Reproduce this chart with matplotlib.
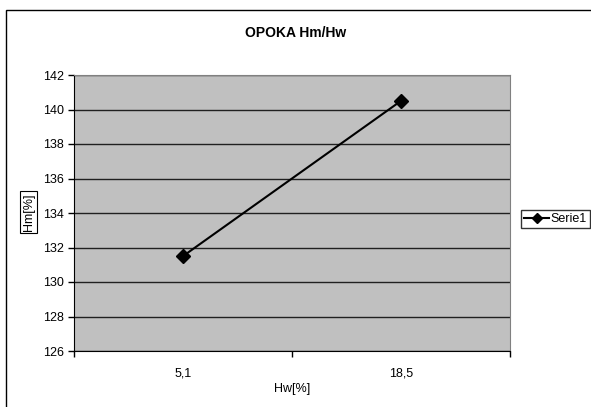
import matplotlib
matplotlib.use("Agg")
import matplotlib.pyplot as plt
from matplotlib.patches import Rectangle

plt.rcParams['font.family'] = ['Liberation Sans', 'DejaVu Sans']

categories = ["5,1", "18,5"]
hm_values = [131.5, 140.5]
y_ticks = [126, 128, 130, 132, 134, 136, 138, 140, 142]
series_name = "Serie1"

W, H = 591, 407
fig = plt.figure(figsize=(W / 100, H / 100), dpi=100)

# outer chart frame
fig.patches.append(Rectangle((6 / W, -0.05), 1.2, 1 - 10 / H + 0.05,
                             transform=fig.transFigure, fill=False,
                             edgecolor='black', linewidth=1.0))

ax = fig.add_axes([74 / W, 1 - 351 / H, (510 - 74) / W, (351 - 75) / H])
ax.set_facecolor('#c0c0c0')

x = list(range(len(categories)))
ax.plot(x, hm_values, color='black', linewidth=1.5, marker='D',
        markersize=7, label=series_name, zorder=3)

ax.set_xlim(-0.5, len(categories) - 0.5)
ax.set_ylim(y_ticks[0], y_ticks[-1])
ax.set_yticks(y_ticks)
ax.set_yticklabels([str(v) for v in y_ticks], fontsize=9)
ax.yaxis.grid(True, color='#202020', linewidth=1.0)
ax.set_axisbelow(True)

# category boundaries as major ticks, labels centred via minor ticks
ax.set_xticks([i - 0.5 for i in range(len(categories) + 1)])
ax.set_xticklabels([])
ax.set_xticks(x, minor=True)
ax.set_xticklabels(categories, minor=True, fontsize=9)
ax.tick_params(axis='x', which='minor', length=0, pad=12)
ax.tick_params(axis='both', which='major', direction='out', length=4,
               color='black', width=1)
ax.tick_params(axis='y', pad=3)

for side in ['top', 'right']:
    ax.spines[side].set_color('#808080')
for side in ['left', 'bottom']:
    ax.spines[side].set_color('black')

fig.text(296 / W, 1 - 33 / H, "OPOKA Hm/Hw", ha='center', va='center',
         fontsize=10, fontweight='bold')
fig.text(292 / W, 1 - 389 / H, "Hw[%]", ha='center', va='center', fontsize=9)
fig.text(29 / W, 1 - 212 / H, "Hm[%]", ha='center', va='center', fontsize=9,
         rotation=90,
         bbox=dict(boxstyle='square,pad=0.2', facecolor='white',
                   edgecolor='black', linewidth=0.8))

fig.legend(loc='center left', bbox_to_anchor=(521 / W, 1 - 219 / H),
           fontsize=9, frameon=True, fancybox=False, edgecolor='black',
           handlelength=2.0, handletextpad=0.1, borderpad=0.25,
           borderaxespad=0, markerscale=0.7)

fig.savefig("out.png", dpi=100, facecolor='white')
